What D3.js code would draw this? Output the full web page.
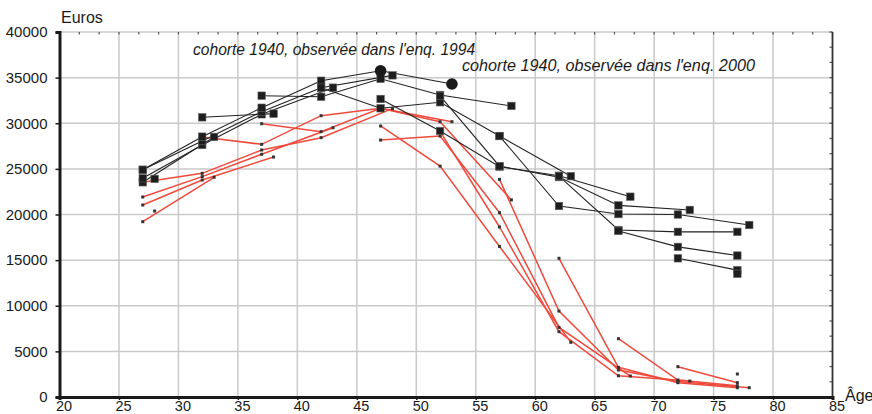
<!DOCTYPE html>
<html><head><meta charset="utf-8">
<script src="https://cdn.jsdelivr.net/npm/d3@7"></script>
<style>html,body{margin:0;padding:0;background:#fff;}svg{display:block;}</style>
</head><body><svg id="c" width="872" height="414"></svg>
<script>
// ---- tick labels ----
const xTicks = [20,25,30,35,40,45,50,55,60,65,70,75,80,85];
const yTicks = [0,5000,10000,15000,20000,25000,30000,35000,40000];
const yTitle = "Euros";
const xTitle = "Âge";
const note1994 = "cohorte 1940, observée dans l'enq. 1994";
const note2000 = "cohorte 1940, observée dans l'enq. 2000";

// ---- black series (age, euros), one per cohort ----
const b28 = [[28,23900]];
const b33 = [[27,23530],[33,28500]];
const b38 = [[32,30650],[38,31050]];
const b43 = [[27,23970],[32,27620],[37,30980],[43,33900]];
const b48 = [[27,24900],[32,28050],[37,31270],[42,33900],[48,35250]];
const b53 = [[27,24900],[32,28530],[37,31700],[42,34660],[47,35750],[53,34300]];
const b58 = [[37,33020],[42,32900],[47,34870],[52,33100],[58,31900]];
const b63 = [[42,33900],[47,31640],[52,32300],[57,28600],[63,24200]];
const b68 = [[47,32660],[52,29150],[57,25240],[62,24250],[68,21950]];
const b73 = [[52,33000],[57,25300],[62,24100],[67,21000],[73,20500]];
const b78 = [[57,28600],[62,20930],[67,20050],[72,20000],[78,18850]];
const b83 = [[62,24200],[67,18300],[72,18100],[77,18100]];
const b88 = [[67,18200],[72,16450],[77,15500]];
const b93 = [[72,15200],[77,13900]];
const b98 = [[77,13500]];
const blackSeries = [b28,b33,b38,b43,b48,b53,b58,b63,b68,b73,b78,b83,b88,b93,b98];

// cohort 1940 highlighted points
const cohort1940 = [[47,35750],[53,34300]];

// ---- red series ----
const r28 = [[28,20380]];
const r33 = [[27,19210],[33,24080]];
const r38 = [[27,21040],[32,23780],[38,26300]];
const r43 = [[27,21920],[32,24150],[37,26600],[43,29510]];
const r48 = [[27,23530],[32,24510],[37,27070],[42,28420],[48,31600]];
const r53 = [[32,28500],[37,27690],[42,30830],[47,31640],[53,30170]];
const r58 = [[37,29950],[42,29080],[47,31640],[52,30170],[58,21600]];
const r63 = [[47,29700],[52,25300],[57,16500],[63,5990]];
const r68 = [[47,28160],[52,28600],[57,20200],[62,7630],[68,2300]];
const r73 = [[52,29100],[57,18630],[62,7160],[67,2330],[73,1750]];
const r78 = [[57,23850],[62,9420],[67,2960],[72,1700],[78,1020]];
const r83 = [[62,15200],[67,3250],[72,1570],[77,1020]];
const r88 = [[67,6390],[72,1860],[77,1240]];
const r93 = [[72,3320],[77,1570]];
const r98 = [[77,2520]];
const redSeries = [r28,r33,r38,r43,r48,r53,r58,r63,r68,r73,r78,r83,r88,r93,r98];

const svg = d3.select("#c");
const L = 59.5, R = 832.5, T = 32, B = 397;
const x = d3.scaleLinear().domain([20,85]).range([L,R]);
const y = d3.scaleLinear().domain([0,40000]).range([B,T]);
const font = "'Liberation Sans', Arial, sans-serif";

// grid
const g = svg.append("g");
g.selectAll(".vg").data(xTicks.filter(d=>d>20 && d<85)).join("line")
  .attr("x1",d=>x(d)).attr("x2",d=>x(d)).attr("y1",T).attr("y2",B)
  .attr("stroke","#c9c9cb").attr("stroke-width",1.5);
g.selectAll(".hg").data(yTicks.filter(d=>d>0)).join("line")
  .attr("x1",L).attr("x2",R).attr("y1",d=>y(d)).attr("y2",d=>y(d))
  .attr("stroke","#c9c9cb").attr("stroke-width",1.5);

// minor ticks on top and right frame
const topMinor = d3.range(20, 85.01, 5/3);
g.selectAll(".tm").data(topMinor).join("line")
  .attr("x1",d=>x(d)).attr("x2",d=>x(d)).attr("y1",T).attr("y2",T+2.5)
  .attr("stroke","#555").attr("stroke-width",1.2);
const rightMinor = d3.range(0, 40000.1, 5000/3);
g.selectAll(".rm").data(rightMinor).join("line")
  .attr("x1",R-3).attr("x2",R).attr("y1",d=>y(d)).attr("y2",d=>y(d))
  .attr("stroke","#555").attr("stroke-width",1.2);
g.append("line").attr("x1",R).attr("x2",R).attr("y1",T).attr("y2",B)
  .attr("stroke","#333").attr("stroke-width",1.8);

// axes
const xAxis = d3.axisBottom(x).tickValues(xTicks).tickSize(3).tickPadding(1).tickFormat(d3.format("d"));
const yAxis = d3.axisLeft(y).tickValues(yTicks).tickSize(4).tickPadding(4).tickFormat(d3.format("d"));
const gx = svg.append("g").attr("transform",`translate(0,${B})`).call(xAxis);
const gy = svg.append("g").attr("transform",`translate(${L},0)`).call(yAxis);
[gx,gy].forEach(a=>{
  a.select(".domain").attr("stroke","#1a1a1a").attr("stroke-width",3);
  a.selectAll(".tick line").attr("stroke","#1a1a1a").attr("stroke-width",1.5);
  a.selectAll(".tick text").attr("font-family",font).attr("font-size",15).attr("fill","#1a1a1a");
});
gx.selectAll(".tick text").attr("font-size",14.5).attr("dx",4).attr("dy","0.7em");
gy.selectAll(".tick text").attr("dx",-4);

// titles
svg.append("text").attr("x",61).attr("y",23).text(yTitle)
  .attr("font-family",font).attr("font-size",16).attr("fill","#1a1a1a");
svg.append("text").attr("x",845).attr("y",401).text(xTitle)
  .attr("font-family",font).attr("font-size",16).attr("fill","#1a1a1a");

const line = d3.line().x(d=>x(d[0])).y(d=>y(d[1]));

// red lines
svg.append("g").selectAll("path").data(redSeries.filter(s=>s.length>1)).join("path")
  .attr("d",line).attr("fill","none").attr("stroke","#ef4a3c").attr("stroke-width",1.5);
// black lines
svg.append("g").selectAll("path").data(blackSeries.filter(s=>s.length>1)).join("path")
  .attr("d",line).attr("fill","none").attr("stroke","#222").attr("stroke-width",1.1);
// red dots
svg.append("g").selectAll("rect").data(redSeries.flat()).join("rect")
  .attr("x",d=>x(d[0])-1.5).attr("y",d=>y(d[1])-1.5).attr("width",3).attr("height",3)
  .attr("fill","#333");
// black squares
svg.append("g").selectAll("rect").data(blackSeries.flat()).join("rect")
  .attr("x",d=>x(d[0])-3.75).attr("y",d=>y(d[1])-3.75).attr("width",7.5).attr("height",7.5)
  .attr("fill","#1e1e1e").attr("stroke","#666").attr("stroke-width",0.6);
// cohort 1940 circles
svg.append("g").selectAll("circle").data(cohort1940).join("circle")
  .attr("cx",d=>x(d[0])).attr("cy",d=>y(d[1])).attr("r",5.8).attr("fill","#1a1a1a");

// annotations
svg.append("text").attr("x",193).attr("y",55).text(note1994)
  .attr("font-family",font).attr("font-size",15.6).attr("font-style","italic").attr("fill","#1a1a1a");
svg.append("text").attr("x",462).attr("y",71).text(note2000)
  .attr("font-family",font).attr("font-size",16.2).attr("font-style","italic").attr("fill","#1a1a1a");
</script></body></html>
